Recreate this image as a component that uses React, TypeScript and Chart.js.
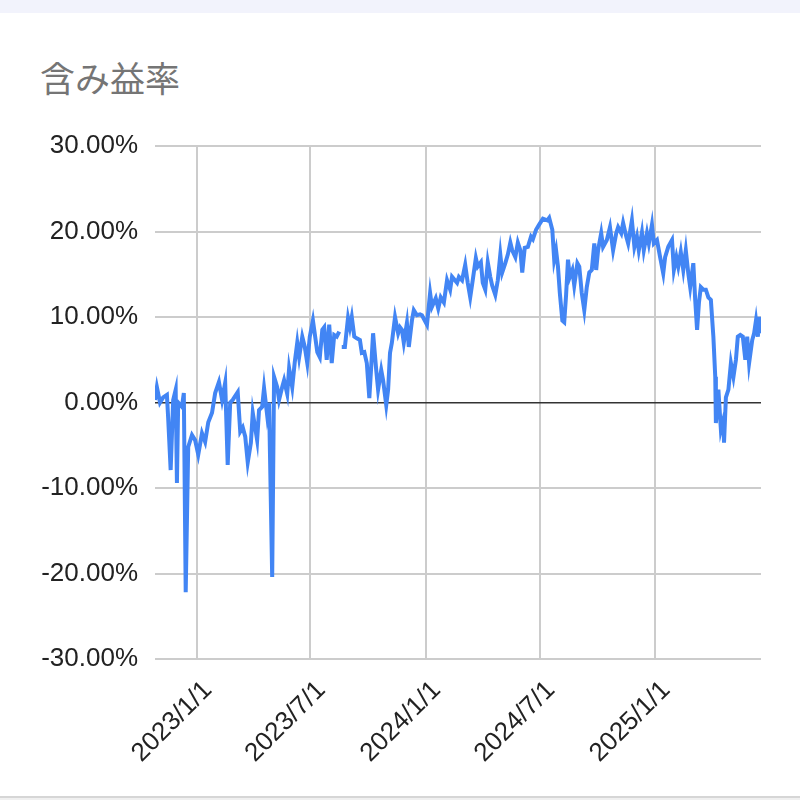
import { useEffect, useRef } from "react";
import { Chart, registerables } from "chart.js";

Chart.register(...registerables);

const title = "含み益率";

const dates: string[] = [
  "2022-10-26", "2022-10-29", "2022-11-03", "2022-11-08", "2022-11-14", "2022-11-16", "2022-11-20", "2022-11-24",
  "2022-11-28", "2022-11-30", "2022-12-02", "2022-12-08", "2022-12-11", "2022-12-14", "2022-12-18", "2022-12-24",
  "2022-12-29", "2023-01-03", "2023-01-09", "2023-01-14", "2023-01-19", "2023-01-25", "2023-01-30", "2023-02-05",
  "2023-02-10", "2023-02-15", "2023-02-19", "2023-02-23", "2023-02-27", "2023-03-07", "2023-03-11", "2023-03-15",
  "2023-03-19", "2023-03-23", "2023-03-28", "2023-03-31", "2023-04-07", "2023-04-10", "2023-04-15", "2023-04-18",
  "2023-04-23", "2023-04-26", "2023-05-01", "2023-05-04", "2023-05-09", "2023-05-12", "2023-05-17", "2023-05-20",
  "2023-05-25", "2023-05-28", "2023-06-02", "2023-06-06", "2023-06-10", "2023-06-13", "2023-06-18", "2023-06-22",
  "2023-06-26", "2023-06-30", "2023-07-05", "2023-07-12", "2023-07-16", "2023-07-20", "2023-07-23", "2023-07-27",
  "2023-07-31", "2023-08-04", "2023-08-08", "2023-08-12", "2023-08-16", "2023-08-18", "2023-08-20", "2023-08-25",
  "2023-08-30", "2023-09-02", "2023-09-05", "2023-09-09", "2023-09-13", "2023-09-18", "2023-09-21", "2023-09-25",
  "2023-09-29", "2023-10-03", "2023-10-06", "2023-10-09", "2023-10-14", "2023-10-17", "2023-10-22", "2023-10-25",
  "2023-10-30", "2023-11-02", "2023-11-05", "2023-11-08", "2023-11-13", "2023-11-18", "2023-11-21", "2023-11-24",
  "2023-11-27", "2023-12-02", "2023-12-05", "2023-12-10", "2023-12-13", "2023-12-18", "2023-12-23", "2023-12-26",
  "2024-01-03", "2024-01-08", "2024-01-11", "2024-01-17", "2024-01-21", "2024-01-25", "2024-01-30", "2024-02-04",
  "2024-02-09", "2024-02-12", "2024-02-20", "2024-02-23", "2024-02-28", "2024-03-04", "2024-03-08", "2024-03-12",
  "2024-03-16", "2024-03-21", "2024-03-24", "2024-03-29", "2024-04-01", "2024-04-05", "2024-04-09", "2024-04-13",
  "2024-04-16", "2024-04-21", "2024-04-25", "2024-04-29", "2024-05-02", "2024-05-07", "2024-05-11", "2024-05-15",
  "2024-05-18", "2024-05-23", "2024-05-27", "2024-05-31", "2024-06-03", "2024-06-07", "2024-06-12", "2024-06-17",
  "2024-06-20", "2024-06-25", "2024-06-30", "2024-07-06", "2024-07-13", "2024-07-16", "2024-07-21", "2024-07-24",
  "2024-07-27", "2024-07-30", "2024-08-02", "2024-08-06", "2024-08-09", "2024-08-12", "2024-08-15", "2024-08-18",
  "2024-08-22", "2024-08-25", "2024-08-30", "2024-09-02", "2024-09-06", "2024-09-10", "2024-09-14", "2024-09-18",
  "2024-09-22", "2024-09-26", "2024-09-29", "2024-10-02", "2024-10-07", "2024-10-10", "2024-10-16", "2024-10-21",
  "2024-10-26", "2024-10-31", "2024-11-03", "2024-11-08", "2024-11-11", "2024-11-16", "2024-11-19", "2024-11-25",
  "2024-11-29", "2024-12-03", "2024-12-06", "2024-12-11", "2024-12-14", "2024-12-19", "2024-12-22", "2024-12-27",
  "2024-12-30", "2025-01-04", "2025-01-09", "2025-01-14", "2025-01-17", "2025-01-22", "2025-01-28", "2025-01-31",
  "2025-02-04", "2025-02-07", "2025-02-11", "2025-02-15", "2025-02-19", "2025-02-23", "2025-02-26", "2025-03-03",
  "2025-03-06", "2025-03-09", "2025-03-12", "2025-03-15", "2025-03-19", "2025-03-23", "2025-03-27", "2025-03-31",
  "2025-04-04", "2025-04-07", "2025-04-08", "2025-04-12", "2025-04-16", "2025-04-20", "2025-04-21", "2025-04-24",
  "2025-04-28", "2025-05-02", "2025-05-06", "2025-05-10", "2025-05-13", "2025-05-17", "2025-05-21", "2025-05-25",
  "2025-05-28", "2025-05-31", "2025-06-05", "2025-06-08", "2025-06-11", "2025-06-14", "2025-06-16", "2025-06-19",
];

const values: (number | null)[] = [
  0.3, 1.8, 0.0, 0.6, 0.9, -1.8, -7.9, 0.3,
  1.5, -9.4, 0.0, -0.5, 1.1, -22.2, -5.2, -3.8,
  -4.4, -6.1, -3.6, -4.6, -2.3, -1.2, 1.1, 2.4,
  0.3, 2.3, -7.3, 0.0, 0.3, 1.2, -3.4, -2.9,
  -4.0, -7.0, -4.7, -1.2, -4.4, -0.9, -0.5, 1.7,
  -1.5, 0.0, -20.4, 3.0, 1.8, 0.3, 1.8, 2.6,
  1.0, 4.0, 1.8, 4.7, 7.0, 5.3, 7.7, 6.5,
  4.6, 7.7, 9.6, 5.9, 5.3, 8.5, 8.8, 5.0,
  9.1, 4.6, 7.9, 7.7, 8.3, null, 6.5, 6.5,
  9.9, 8.8, 10.0, 7.7, 7.5, 7.3, 5.8, 5.9,
  4.6, 0.5, 4.2, 8.1, 3.8, 1.5, 3.8, 2.6,
  -0.3, 1.5, 5.8, 7.0, 10.0, 8.1, 8.8, 8.5,
  7.0, 9.3, 6.5, 9.6, 10.8, 10.2, 10.3, 10.2,
  9.1, 12.8, 11.2, 12.2, 11.0, 12.3, 11.7, 14.3,
  13.2, 14.7, 14.0, 14.7, 14.3, 16.1, 14.0, 12.3,
  14.3, 16.9, 15.9, 16.4, 14.0, 13.2, 16.4, 14.7,
  13.7, 12.6, 14.3, 17.3, 15.2, 16.3, 17.3, 18.7,
  17.8, 17.0, 18.7, 17.8, 15.2, 18.1, 18.2, 19.4,
  19.1, 20.2, 20.8, 21.5, 21.3, 21.6, 20.2, 16.7,
  17.8, 15.9, 12.8, 9.6, 9.4, 12.6, 16.7, 14.7,
  15.5, 13.7, 16.3, 15.9, 12.8, 10.8, 13.5, 15.2,
  15.5, 18.6, 15.5, 17.8, 19.8, 18.2, 19.0, 20.5,
  17.8, 19.8, 20.5, 19.8, 21.0, 19.4, 18.6, 21.3,
  18.2, 19.4, 17.8, 19.9, 17.8, 19.8, 18.6, 20.8,
  18.6, 19.0, 17.0, 15.1, 17.0, 18.2, 19.0, 15.5,
  17.0, 15.9, 17.6, 15.5, 17.8, 15.1, 13.5, 16.3,
  12.0, 8.5, 11.7, 13.5, 13.2, 13.2, 12.3, 12.0,
  7.7, 3.0, -2.4, 1.5, -3.2, -2.0, -4.7, 0.6,
  1.5, 4.6, 3.0, 5.0, 7.7, 7.9, 7.7, 5.0,
  7.7, 4.6, 7.3, 8.1, 9.6, 7.7, 10.0, 8.1,
];

const tickDates: string[] = ["2023-01-01", "2023-07-01", "2024-01-01", "2024-07-01", "2025-01-01"];
const tickLabels: string[] = ["2023/1/1", "2023/7/1", "2024/1/1", "2024/7/1", "2025/1/1"];

const yTicks: number[] = [-30, -20, -10, 0, 10, 20, 30];

const toDay = (s: string) => Date.parse(s + "T00:00:00Z") / 86400000;

export default function App() {
  const ref = useRef<HTMLCanvasElement>(null);

  useEffect(() => {
    if (!ref.current) return;
    const points = dates.map((d, i) => ({ x: toDay(d), y: values[i] }));
    const chart = new Chart(ref.current, {
      type: "line",
      data: {
        datasets: [
          {
            data: points as any,
            borderColor: "#4285F4",
            backgroundColor: "#4285F4",
            borderWidth: 4,
            pointRadius: 0,
            tension: 0,
            spanGaps: false,
          },
        ],
      },
      options: {
        animation: false,
        responsive: false,
        devicePixelRatio: 1,
        layout: { padding: { top: 146, right: 39, left: 0, bottom: 0 } },
        plugins: { legend: { display: false }, tooltip: { enabled: false }, title: { display: false } },
        scales: {
          x: {
            type: "linear",
            min: toDay(dates[0]),
            max: toDay(dates[dates.length - 1]),
            afterBuildTicks: (s: any) => {
              s.ticks = tickDates.map((d) => ({ value: toDay(d) }));
            },
            afterFit: (s: any) => {
              s.height = 141;
            },
            grid: { color: "#cccccc", lineWidth: 2, drawTicks: false },
            border: { display: false },
            ticks: {
              autoSkip: false,
              minRotation: 45,
              maxRotation: 45,
              padding: 16,
              labelOffset: 11,
              color: "#222222",
              font: { family: "'Liberation Sans', Arial, sans-serif", size: 26 },
              callback: (_v: any, i: number) => tickLabels[i],
            },
          },
          y: {
            min: yTicks[0],
            max: yTicks[yTicks.length - 1],
            afterBuildTicks: (s: any) => {
              s.ticks = yTicks.map((v) => ({ value: v }));
            },
            afterFit: (s: any) => {
              s.width = 155;
            },
            grid: {
              color: (ctx: any) => (ctx.tick && ctx.tick.value === 0 ? "#333333" : "#cccccc"),
              lineWidth: (ctx: any) => (ctx.tick && ctx.tick.value === 0 ? 1.5 : 2),
              drawTicks: false,
            },
            border: { display: false },
            ticks: {
              padding: 17,
              color: "#222222",
              font: { family: "'Liberation Sans', Arial, sans-serif", size: 26 },
              callback: (v: any) => Number(v).toFixed(2) + "%",
            },
          },
        },
      },
    });
    return () => chart.destroy();
  }, []);

  return (
    <div style={{ position: "absolute", left: 0, top: 0, width: 800, height: 800, background: "#ffffff", overflow: "hidden" }}>
      <div style={{ position: "absolute", left: 0, top: 0, width: 800, height: 13, background: "#f2f3fc" }} />
      <div style={{ position: "absolute", left: 0, top: 796, width: 800, height: 4, background: "#f0f0f0", borderTop: "2px solid #d6d6d6" }} />
      <div
        style={{
          position: "absolute",
          left: 40,
          top: 54,
          fontFamily: "'Noto Sans CJK JP', sans-serif",
          fontSize: 35,
          lineHeight: "46px",
          color: "#757575",
          whiteSpace: "nowrap",
        }}
      >
        {title}
      </div>
      <canvas ref={ref} width={800} height={800} style={{ position: "absolute", left: 0, top: 0, width: 800, height: 800 }} />
    </div>
  );
}
